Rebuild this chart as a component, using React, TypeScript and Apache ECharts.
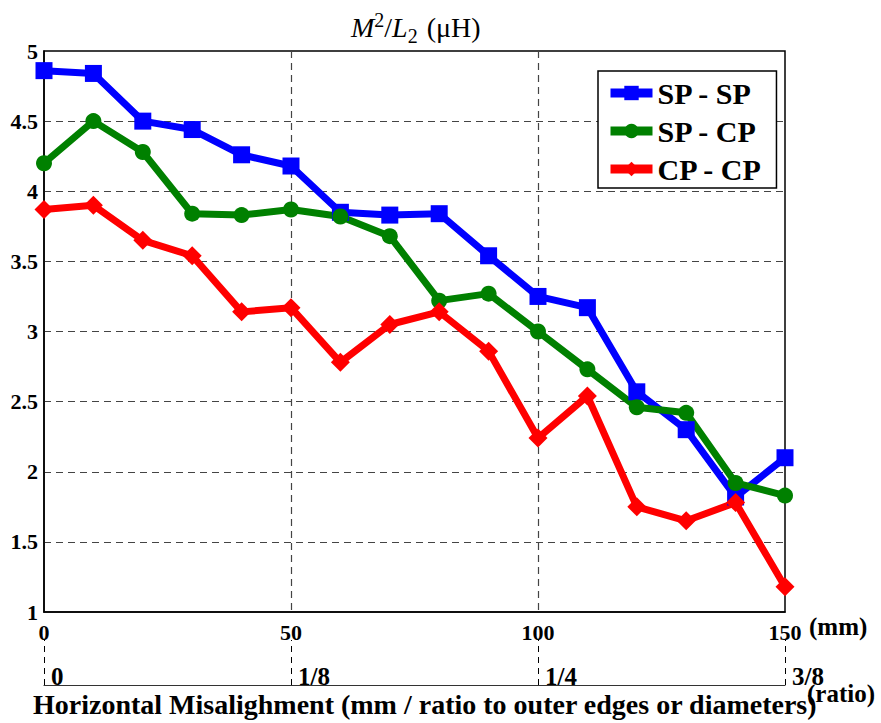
import React, { useEffect, useRef } from "react";
import * as echarts from "echarts";

const xValues = [0, 10, 20, 30, 40, 50, 60, 70, 80, 90, 100, 110, 120, 130, 140, 150];
const spSp = [4.86, 4.84, 4.5, 4.44, 4.26, 4.18, 3.85, 3.83, 3.84, 3.54, 3.25, 3.17, 2.57, 2.3, 1.82, 2.1];
const spCp = [4.2, 4.5, 4.28, 3.84, 3.83, 3.87, 3.82, 3.68, 3.22, 3.27, 3.0, 2.73, 2.46, 2.42, 1.92, 1.83];
const cpCp = [3.87, 3.9, 3.65, 3.54, 3.14, 3.17, 2.78, 3.05, 3.14, 2.86, 2.24, 2.54, 1.75, 1.65, 1.78, 1.18];
const ratioLabels = ["0", "1/8", "1/4", "3/8"];
const seriesNames = ["SP - SP", "SP - CP", "CP - CP"];

const FONT = "Liberation Serif";

export default function App() {
  const ref = useRef<HTMLDivElement>(null);
  useEffect(() => {
    if (!ref.current) return;
    const chart = echarts.init(ref.current, undefined, { renderer: "svg" });
    const pair = (arr: number[]) => xValues.map((x, i) => [x, arr[i]]);
    const mkSeries = (name: string, data: number[], color: string, symbol: string, size: number) => ({
      name,
      type: "line",
      xAxisIndex: 0,
      data: pair(data),
      symbol,
      symbolSize: size,
      color,
      lineStyle: { width: 7, color },
      itemStyle: { color },
    });
    const tickFont = { color: "#000", fontFamily: FONT, fontWeight: "bold" as const, fontSize: 22 };
    chart.setOption({
      animation: false,
      backgroundColor: "#fff",
      textStyle: { fontFamily: FONT, fontWeight: "bold", color: "#000" },
      grid: { left: 44, right: 96, top: 51, bottom: 111, show: true, borderColor: "#000", borderWidth: 1.5 },
      legend: {
        left: 598,
        top: 71,
        orient: "vertical",
        backgroundColor: "#fff",
        borderColor: "#000",
        borderWidth: 1.5,
        borderRadius: 0,
        padding: [7, 14, 4, 8],
        itemWidth: 42,
        itemHeight: 18,
        itemGap: 8,
        lineStyle: { width: 9 },
        textStyle: { fontFamily: FONT, fontWeight: "bold", fontSize: 30, color: "#000" },
        data: seriesNames,
      },
      xAxis: [
        {
          type: "value",
          min: 0,
          max: 150,
          interval: 50,
          axisLine: { show: true, lineStyle: { color: "#000", width: 1.5 } },
          axisTick: { show: false },
          axisLabel: {
            ...tickFont,
            margin: 9,
            showMinLabel: true,
            showMaxLabel: true,
          },
          splitLine: { show: true, showMinLine: false, showMaxLine: false, lineStyle: { color: "#444", type: [7, 5], width: 1.2 } },
        },
        {
          type: "value",
          position: "bottom",
          offset: 73,
          min: 0,
          max: 150,
          interval: 50,
          axisLine: { show: true, onZero: false, lineStyle: { color: "#333", width: 1.2 } },
          axisTick: { show: true, inside: true, length: 45, lineStyle: { color: "#000", type: [6, 5], width: 1 } },
          axisLabel: {
            inside: true,
            margin: -4,
            align: "left",
            padding: [0, 0, 0, 7],
            ...tickFont,
            fontSize: 25,
            showMinLabel: true,
            showMaxLabel: true,
            formatter: (v: number) => ratioLabels[Math.round(v / 50)] ?? "",
          },
          splitLine: { show: false },
        },
      ],
      yAxis: {
        type: "value",
        min: 1,
        max: 5,
        interval: 0.5,
        axisLine: { show: true, lineStyle: { color: "#000", width: 1.5 } },
        axisTick: { show: false },
        axisLabel: { ...tickFont, margin: 6 },
        splitLine: { show: true, showMinLine: false, showMaxLine: false, lineStyle: { color: "#444", type: [7, 5], width: 1.2 } },
      },
      graphic: [
        {
          type: "text",
          left: 351,
          top: 8,
          style: {
            text: "{i|M}{sup|2}{n|/}{i|L}{sub|2}{n| (μH)}",
            fill: "#000",
            rich: {
              i: { fontFamily: FONT, fontStyle: "italic", fontWeight: "normal", fontSize: 28, lineHeight: 38, verticalAlign: "middle" },
              n: { fontFamily: FONT, fontWeight: "normal", fontSize: 28, lineHeight: 38, verticalAlign: "middle" },
              sup: { fontFamily: FONT, fontWeight: "normal", fontSize: 20, lineHeight: 38, verticalAlign: "top", padding: [2, 0, 0, 0] },
              sub: { fontFamily: FONT, fontWeight: "normal", fontSize: 20, lineHeight: 38, verticalAlign: "bottom", padding: [0, 2, 0, 0] },
            },
          },
        },
        {
          type: "text",
          left: 809,
          top: 614,
          style: { text: "(mm)", fill: "#000", font: `bold 25px ${FONT}` },
        },
        {
          type: "text",
          left: 807,
          top: 681,
          style: { text: "(ratio)", fill: "#000", font: `bold 25px ${FONT}` },
        },
        {
          type: "text",
          left: 33,
          top: 690,
          style: {
            text: "Horizontal Misalighment (mm / ratio to outer edges or diameters)",
            fill: "#000",
            font: `bold 28px ${FONT}`,
          },
        },
      ],
      series: [
        mkSeries(seriesNames[0], spSp, "#0000ff", "rect", 17),
        mkSeries(seriesNames[1], spCp, "#008000", "circle", 16),
        mkSeries(seriesNames[2], cpCp, "#ff0000", "diamond", 19),
      ],
    });
    return () => chart.dispose();
  }, []);
  return <div ref={ref} style={{ position: "absolute", left: 0, top: 0, width: 881, height: 723 }} />;
}
